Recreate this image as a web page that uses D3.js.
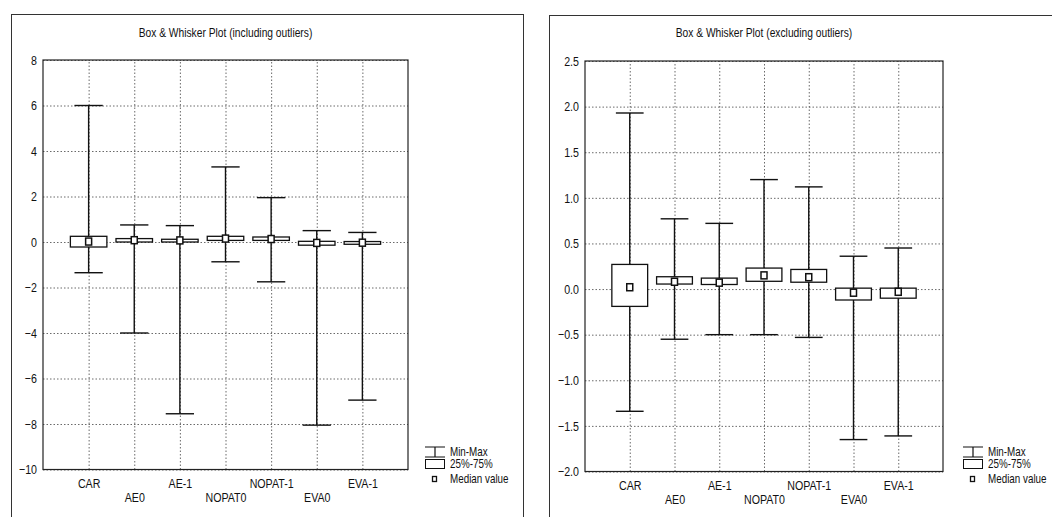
<!DOCTYPE html>
<html>
<head>
<meta charset="utf-8">
<script src="https://cdn.jsdelivr.net/npm/d3@7"></script>
<style>
  body { margin: 0; background: #fff; }
  svg text { font-family: "Liberation Sans", Arial, sans-serif; fill: #111; }
  .grid line { stroke: #444; stroke-dasharray: 1.5 2; stroke-width: 0.8; }
  .grid path { display: none; }
</style>
</head>
<body>
<svg id="chart" width="1052" height="517"></svg>
<script>
// Box & whisker values
var categories = ["CAR", "AE0", "AE-1", "NOPAT0", "NOPAT-1", "EVA0", "EVA-1"];

// including outliers
var inclMax    = [6.0, 0.75, 0.72, 3.3, 1.95, 0.5, 0.42];
var inclQ3     = [0.25, 0.15, 0.12, 0.25, 0.22, 0.03, 0.02];
var inclMedian = [0.02, 0.08, 0.07, 0.15, 0.13, -0.04, -0.03];
var inclQ1     = [-0.22, 0.0, 0.0, 0.07, 0.07, -0.14, -0.1];
var inclMin    = [-1.35, -4.0, -7.55, -0.87, -1.75, -8.05, -6.95];
var inclTicks  = [-10, -8, -6, -4, -2, 0, 2, 4, 6, 8];

// excluding outliers
var exclMax    = [1.93, 0.77, 0.72, 1.2, 1.12, 0.36, 0.45];
var exclQ3     = [0.27, 0.135, 0.12, 0.23, 0.215, 0.01, 0.01];
var exclMedian = [0.02, 0.08, 0.07, 0.15, 0.13, -0.04, -0.03];
var exclQ1     = [-0.19, 0.055, 0.05, 0.085, 0.075, -0.12, -0.1];
var exclMin    = [-1.34, -0.55, -0.5, -0.5, -0.53, -1.65, -1.61];
var exclTicks  = [-2.0, -1.5, -1.0, -0.5, 0.0, 0.5, 1.0, 1.5, 2.0, 2.5];

var legendLabels = ["Min-Max", "25%-75%", "Median value"];

var svg = d3.select("#chart");

// squeeze text horizontally to look like a narrow font
var SQ = 0.82;
function narrow(sel) {
  sel.each(function() {
    var t = d3.select(this);
    var x = +t.attr("x") || 0;
    t.attr("x", x / SQ).attr("transform", "scale(" + SQ + ",1)");
  });
}

function drawPanel(opt) {
  var g = svg.append("g");

  // panel frame
  g.append("rect")
    .attr("x", opt.frame[0] + 0.5).attr("y", opt.frame[1] + 0.5)
    .attr("width", opt.frame[2]).attr("height", opt.frame[3])
    .attr("fill", "none").attr("stroke", "#333").attr("stroke-width", 1);

  var plot = opt.plot; // left, top, right, bottom
  var x = d3.scalePoint().domain(categories).range([plot.left, plot.right]).padding(1);
  var y = d3.scaleLinear().domain(opt.domain).range([plot.bottom, plot.top]);
  var step = x.step();

  // title
  g.append("text")
    .attr("x", (plot.left + plot.right) / 2).attr("y", 37)
    .attr("text-anchor", "middle").style("font-size", "12.5px")
    .text(opt.title)
    .call(narrow);

  // gridlines
  g.append("g").attr("class", "grid")
    .attr("transform", "translate(" + plot.left + ",0)")
    .call(d3.axisLeft(y).tickValues(opt.ticks).tickSize(-(plot.right - plot.left)).tickFormat(""));
  g.append("g").attr("class", "grid")
    .attr("transform", "translate(0," + plot.bottom + ")")
    .call(d3.axisBottom(x).tickSize(-(plot.bottom - plot.top)).tickFormat(""));

  // y tick labels
  var yAxis = g.append("g")
    .attr("transform", "translate(" + plot.left + ",0)")
    .call(d3.axisLeft(y).tickValues(opt.ticks).tickSize(0).tickPadding(6).tickFormat(opt.format));
  yAxis.select(".domain").remove();
  yAxis.selectAll("text").style("font-size", "13px").attr("font-family", null).call(narrow);
  yAxis.attr("font-family", null);

  // x category labels, staggered
  var xAxis = g.append("g")
    .attr("transform", "translate(0," + plot.bottom + ")")
    .call(d3.axisBottom(x).tickSize(0).tickPadding(6));
  xAxis.select(".domain").remove();
  xAxis.attr("font-family", null);
  xAxis.selectAll("text")
    .style("font-size", "13px")
    .attr("dy", function(d, i) { return i % 2 ? "2.05em" : "0.95em"; })
    .call(narrow);

  // plot frame
  g.append("rect")
    .attr("x", plot.left).attr("y", plot.top)
    .attr("width", plot.right - plot.left).attr("height", plot.bottom - plot.top)
    .attr("fill", "none").attr("stroke", "#222").attr("stroke-width", 1.2);

  var boxes = g.append("g").selectAll("g")
    .data(categories.map(function(c, i) {
      return { cat: c, min: opt.min[i], q1: opt.q1[i], med: opt.median[i], q3: opt.q3[i], max: opt.max[i] };
    }))
    .enter().append("g");

  var capW = step * 0.62, boxW = step * 0.8;

  // whisker
  boxes.append("line")
    .attr("x1", function(d) { return x(d.cat); }).attr("x2", function(d) { return x(d.cat); })
    .attr("y1", function(d) { return y(d.min); }).attr("y2", function(d) { return y(d.max); })
    .attr("stroke", "#111").attr("stroke-width", 1.4);
  ["min", "max"].forEach(function(k) {
    boxes.append("line")
      .attr("x1", function(d) { return x(d.cat) - capW / 2; })
      .attr("x2", function(d) { return x(d.cat) + capW / 2; })
      .attr("y1", function(d) { return y(d[k]); }).attr("y2", function(d) { return y(d[k]); })
      .attr("stroke", "#111").attr("stroke-width", 1.4);
  });

  // 25%-75% box
  boxes.append("rect")
    .attr("x", function(d) { return x(d.cat) - boxW / 2; })
    .attr("y", function(d) { return y(d.q3); })
    .attr("width", boxW)
    .attr("height", function(d) { return Math.max(2, y(d.q1) - y(d.q3)); })
    .attr("fill", "#fff").attr("stroke", "#111").attr("stroke-width", 1.3);

  // median
  boxes.append("rect")
    .attr("x", function(d) { return x(d.cat) - 3; })
    .attr("y", function(d) { return y(d.med) - 3.5; })
    .attr("width", 6).attr("height", 7)
    .attr("fill", "#fff").attr("stroke", "#111").attr("stroke-width", 1.5);

  // legend
  var lg = g.append("g").attr("transform", "translate(" + opt.legend[0] + "," + opt.legend[1] + ")");
  lg.append("path").attr("d", "M0,-5H20M0,5H20M10,-5V5").attr("stroke", "#111").attr("stroke-width", 1.2).attr("fill", "none");
  lg.append("rect").attr("x", 0.5).attr("y", 7.5).attr("width", 19).attr("height", 9)
    .attr("fill", "#fff").attr("stroke", "#111").attr("stroke-width", 1);
  lg.append("rect").attr("x", 7.5).attr("y", 24.5).attr("width", 4).attr("height", 5)
    .attr("fill", "#fff").attr("stroke", "#111").attr("stroke-width", 1.3);
  lg.selectAll("text.lab").data(legendLabels).enter().append("text")
    .attr("class", "lab")
    .attr("x", 25).attr("y", function(d, i) { return [4, 16, 31][i]; })
    .style("font-size", "12px")
    .text(function(d) { return d; })
    .call(narrow);
}

drawPanel({
  frame: [11, 14, 512, 520],
  plot: { left: 43, top: 60, right: 408, bottom: 469.5 },
  domain: [-10, 8],
  ticks: inclTicks,
  format: d3.format("d"),
  title: "Box & Whisker Plot (including outliers)",
  min: inclMin, q1: inclQ1, median: inclMedian, q3: inclQ3, max: inclMax,
  legend: [425, 452]
});

drawPanel({
  frame: [549, 15, 520, 520],
  plot: { left: 585, top: 61, right: 943, bottom: 471.5 },
  domain: [-2, 2.5],
  ticks: exclTicks,
  format: d3.format(".1f"),
  title: "Box & Whisker Plot (excluding outliers)",
  min: exclMin, q1: exclQ1, median: exclMedian, q3: exclQ3, max: exclMax,
  legend: [963, 452]
});
</script>
</body>
</html>
